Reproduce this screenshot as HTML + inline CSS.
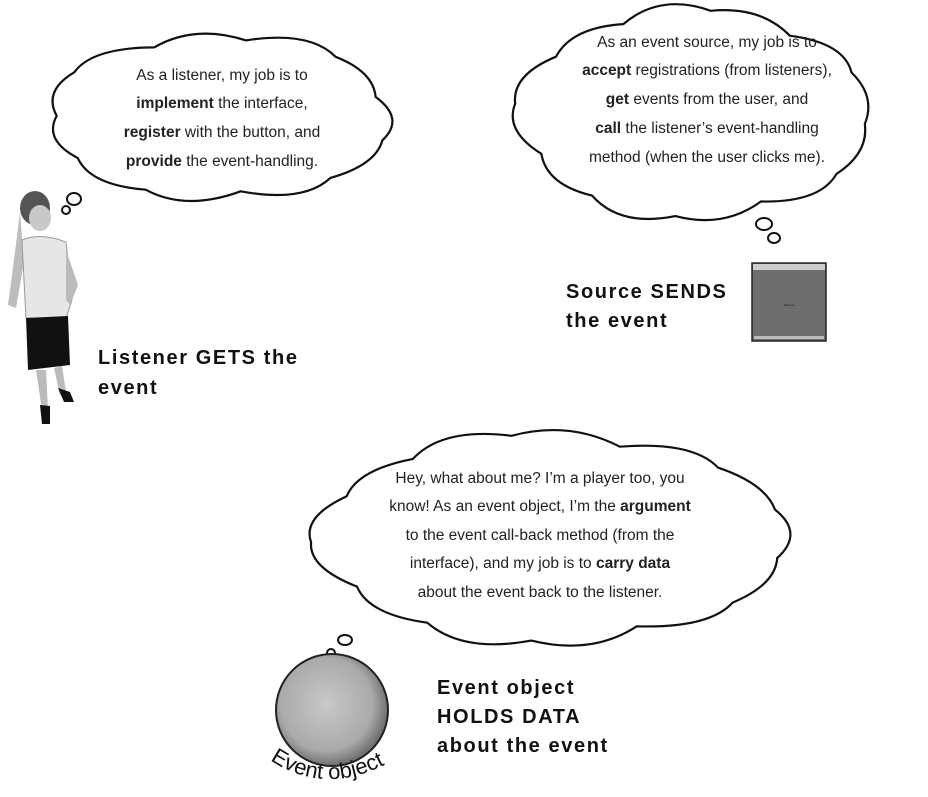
<!DOCTYPE html>
<html><head><meta charset="utf-8"><style>
html,body{margin:0;padding:0;background:#fff}
svg{display:block}
.t{font-family:"Liberation Sans",sans-serif;font-size:15.5px;fill:#222;text-anchor:middle}
.b{font-weight:bold}
.L{font-family:"Liberation Sans",sans-serif;font-size:20px;font-weight:bold;fill:#111;letter-spacing:1.6px}
</style></head><body>
<svg id="s" width="928" height="797" viewBox="0 0 928 797" xmlns="http://www.w3.org/2000/svg">
<g id="clouds" fill="#fff" stroke="#111" stroke-width="2.2"></g>
<g fill="none" stroke="#111" stroke-width="2">
<ellipse cx="74" cy="199" rx="7" ry="6"/><ellipse cx="66" cy="210" rx="4" ry="4"/>
<ellipse cx="764" cy="224" rx="8" ry="6"/><ellipse cx="774" cy="238" rx="6" ry="5"/>
<ellipse cx="345" cy="640" rx="7" ry="5"/><ellipse cx="331" cy="653" rx="4" ry="4"/>
</g>
<text class="t" x="222" y="80">As a listener, my job is to</text>
<text class="t" x="222" y="108"><tspan class="b">implement</tspan> the interface,</text>
<text class="t" x="222" y="137"><tspan class="b">register</tspan> with the button, and</text>
<text class="t" x="222" y="166"><tspan class="b">provide</tspan> the event-handling.</text>

<text class="t" x="707" y="47">As an event source, my job is to</text>
<text class="t" x="707" y="75"><tspan class="b">accept</tspan> registrations (from listeners),</text>
<text class="t" x="707" y="104"><tspan class="b">get</tspan> events from the user, and</text>
<text class="t" x="707" y="133"><tspan class="b">call</tspan> the listener’s event-handling</text>
<text class="t" x="707" y="162">method (when the user clicks me).</text>

<text class="t" x="540" y="483">Hey, what about me? I’m a player too, you</text>
<text class="t" x="540" y="511">know! As an event object, I’m the <tspan class="b">argument</tspan></text>
<text class="t" x="540" y="540">to the event call-back method (from the</text>
<text class="t" x="540" y="568">interface), and my job is to <tspan class="b">carry data</tspan></text>
<text class="t" x="540" y="597">about the event back to the listener.</text>

<text class="L" x="98" y="364">Listener GETS the</text>
<text class="L" x="98" y="394">event</text>
<text class="L" x="566" y="298">Source SENDS</text>
<text class="L" x="566" y="327">the event</text>
<text class="L" x="437" y="694">Event object</text>
<text class="L" x="437" y="723">HOLDS DATA</text>
<text class="L" x="437" y="752">about the event</text>

<rect x="752" y="263" width="74" height="78" fill="#6e6e6e" stroke="#222" stroke-width="1.5"/>
<rect x="753" y="264" width="72" height="6" fill="#ccc"/>
<rect x="754" y="336" width="70" height="3" fill="#bbb"/>
<text x="789" y="306" font-size="3" text-anchor="middle" fill="#111" font-family="Liberation Sans,sans-serif">click me</text>

<defs><radialGradient id="g" cx="45%" cy="45%" r="55%"><stop offset="0" stop-color="#c8c8c8"/><stop offset="0.75" stop-color="#aaa"/><stop offset="1" stop-color="#707070"/></radialGradient></defs>
<circle cx="332" cy="710" r="56" fill="url(#g)" stroke="#222" stroke-width="2"/>
<path id="arc" d="M270 760 Q330 800 400 756" fill="none"/>
<text font-family="Liberation Sans,sans-serif" font-size="22" fill="#111"><textPath href="#arc">Event object</textPath></text>

<g>
<ellipse cx="35" cy="208" rx="15" ry="17" fill="#555"/>
<ellipse cx="40" cy="218" rx="11" ry="13" fill="#c8c8c8"/>
<path d="M20 212 L14 260 L8 305 L16 308 L24 262 Z" fill="#bdbdbd"/>
<path d="M22 240 Q40 232 66 242 L72 300 L66 318 L26 318 L24 280 Z" fill="#e6e6e6" stroke="#999"/>
<path d="M66 250 L78 285 L70 305 L66 300 Z" fill="#bbb"/>
<path d="M26 318 L68 316 L70 365 L28 370 Z" fill="#111"/>
<path d="M36 370 L42 410 L48 410 L46 370 Z M54 368 L60 395 L66 392 L62 366 Z" fill="#bbb"/>
<path d="M40 405 L50 406 L50 424 L42 424 Z M58 388 L70 392 L74 402 L64 402 Z" fill="#111"/>
</g>
</svg>
<script>
function cloud(cx,cy,rx,ry,n,amp,seed){
 let pts=[];for(let i=0;i<n;i++){let a=i/n*2*Math.PI+seed;let j=1+0.04*Math.sin(i*2.3+seed);pts.push([cx+rx*j*Math.cos(a),cy+ry*j*Math.sin(a)]);}
 let d="M"+pts[0][0].toFixed(1)+" "+pts[0][1].toFixed(1);
 for(let i=0;i<n;i++){let p=pts[i],q=pts[(i+1)%n];let mx=(p[0]+q[0])/2,my=(p[1]+q[1])/2;let dx=mx-cx,dy=my-cy;let h=Math.hypot(dx,dy);let k=amp*(0.8+0.4*Math.abs(Math.sin(i*1.7+seed)));let ox=mx+dx/h*k,oy=my+dy/h*k;d+=" Q"+ox.toFixed(1)+" "+oy.toFixed(1)+" "+q[0].toFixed(1)+" "+q[1].toFixed(1);}
 return d+"Z";
}
const g=document.getElementById("clouds");
[[220,117,168,78,11,22,0.3],[693,114,172,100,12,22,0.1],[550,538,230,100,13,24,0.2]].forEach(c=>{
 const p=document.createElementNS("http://www.w3.org/2000/svg","path");p.setAttribute("d",cloud(...c));g.appendChild(p);});
</script>
</body></html>
